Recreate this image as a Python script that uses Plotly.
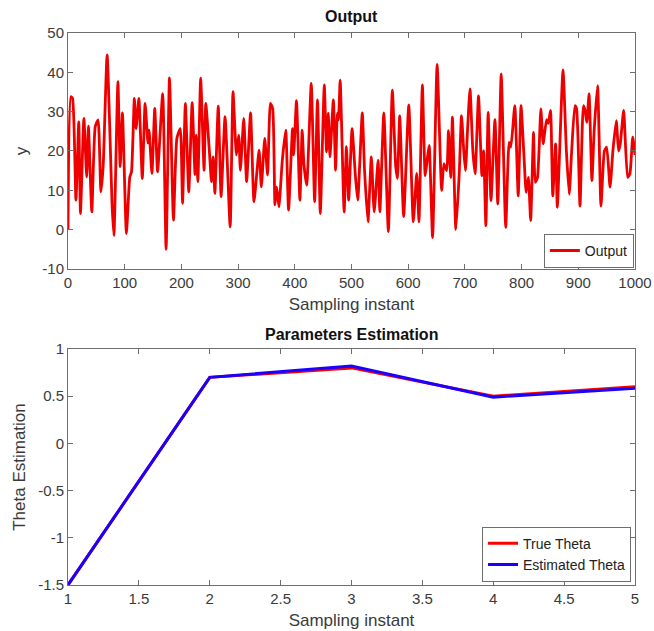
import plotly.graph_objects as go

# ---- Top chart: Output (turning points of the signal) ----
out_x = [0, 5, 8, 14, 19, 22, 28, 33, 36, 42, 48, 53, 58, 62, 69, 78, 81, 88, 92, 96,
         103, 109, 112, 117, 120, 125, 131, 136, 141, 143, 148, 153, 158, 167, 173, 179,
         186, 192, 198, 202, 207, 213, 219, 224, 226, 229, 234, 240, 243, 250, 253, 256,
         259, 265, 270, 277, 286, 291, 297, 301, 304, 310, 315, 322, 328, 337, 341, 347,
         352, 357, 361, 365, 368, 372, 378, 384, 389, 396, 398, 403, 409, 413, 416, 421,
         429, 435, 440, 445, 452, 456, 459, 462, 468, 472, 475, 477, 480, 487, 491, 495,
         501, 507, 511, 519, 523, 529, 535, 540, 547, 550, 557, 565, 572, 578, 581, 585,
         592, 601, 609, 615, 619, 625, 630, 634, 637, 643, 651, 659, 663, 668, 671, 675,
         678, 684, 690, 694, 698, 701, 705, 709, 714, 718, 724, 730, 733, 737, 741, 746,
         753, 758, 764, 772, 778, 781, 788, 794, 799, 804, 808, 812, 816, 821, 824, 828,
         834, 838, 844, 847, 851, 855, 860, 863, 873, 879, 884, 888, 894, 897, 903, 909,
         912, 915, 919, 924, 928, 934, 940, 946, 950, 956, 961, 967, 971, 974, 980, 987,
         991, 996, 1000]
out_y = [0, 33.8, 33.4, 7.5, 27.4, 4.1, 28.3, 13.4, 26.3, 4.5, 26.2, 27.9, 9.6, 16, 44.4, 5.4, -1.5, 37.6, 16, 29.7,
         -1, 13.4, 14.7, 33.4, 25.7, 33.4, 13, 32.1, 22, 25.3, 14.3, 30.8, 14.7, 34.6, -5, 38.6,
         2.4, 23.2, 25.7, 6.7, 32.1, 9.6, 32.3, 14, 24, 12.2, 38.5, 15.1, 32.1, 18.5, 12.2, 18.5,
         9.2, 31.4, 8.4, 28.7, 0.7, 35.1, 19, 24, 15.1, 28.3, 12.2, 29.7, 7.1, 20.2, 10.9, 23.2,
         13.9, 32.1, 30.8, 6.3, 10.9, 5.8, 17.7, 25.3, 5, 25.7, 19, 32.8, 7.5, 25.3, 16.8, 11.3,
         37.2, 7.1, 33, 4.1, 36.8, 19.8, 29.6, 18.5, 33, 15.1, 29.6, 27.9, 38, 4.5, 21.1, 7.5,
         25.7, 13.4, 7.5, 29.7, 15.1, 2, 18.5, 4.5, 17.7, 4.5, 29.7, -0.5, 35.5, 16, 13, 28.9,
         3.3, 31.7, 2, 14.3, 2, 36.8, 13.7, 18.4, 21.4, -2, 42, 10, 16.7, 15, 25.2, 13.3,
         28.6, 0, 14.2, 29, 20, 15, 26.4, 35.8, 20, 14.2, 34, 13.7, 20, 1, 29.8, 7.4,
         28, 6.5, 39.6, 0.6, 22.2, 21, 31.5, 8.6, 31.5, 19.2, 9.5, 13.3, 2.3, 24.7, 12, 13.3,
         30.7, 21.8, 28, 27, 30.3, 8.6, 21.8, 5.7, 40.6, 20, 9, 19.2, 31.5, 30.7, 6, 31.5,
         30.3, 27.3, 34.5, 12.5, 25.2, 36.6, 6, 20, 21, 10.8, 20, 27.7, 20, 21.8, 30.3, 13.3,
         14.2, 23.5, 19]

# ---- Bottom chart: parameters ----
theta_x = [1, 2, 3, 4, 5]
true_theta = [-1.5, 0.7, 0.8, 0.5, 0.6]
est_theta = [-1.5, 0.7, 0.82, 0.49, 0.585]

top_yticks = [-10, 0, 10, 20, 30, 40, 50]
top_yticklabels = ["-10", "0", "10", "20", "30", "40", "50"]
top_xticks = [0, 100, 200, 300, 400, 500, 600, 700, 800, 900, 1000]
bot_yticks = [-1.5, -1, -0.5, 0, 0.5, 1]
bot_yticklabels = ["-1.5", "-1", "-0.5", "0", "0.5", "1"]
bot_xticks = [1, 1.5, 2, 2.5, 3, 3.5, 4, 4.5, 5]
bot_xticklabels = ["1", "1.5", "2", "2.5", "3", "3.5", "4", "4.5", "5"]

FONT = "Liberation Sans, Arial, sans-serif"
AX = "#6e6e6e"
TXT = "#3a3a3a"

fig = go.Figure()
fig.add_trace(go.Scatter(x=out_x, y=out_y, mode="lines", name="Output", showlegend=True,
                         line=dict(color="#ee0000", width=2.8, shape="spline", smoothing=0.5),
                         xaxis="x", yaxis="y", legend="legend"))
fig.add_trace(go.Scatter(x=theta_x, y=true_theta, mode="lines", name="True Theta", showlegend=True,
                         line=dict(color="#ff0000", width=3),
                         xaxis="x2", yaxis="y2", legend="legend2"))
fig.add_trace(go.Scatter(x=theta_x, y=est_theta, mode="lines", name="Estimated Theta", showlegend=True,
                         line=dict(color="#1a00ff", width=3),
                         xaxis="x2", yaxis="y2", legend="legend2"))

axcommon = dict(showline=True, linecolor=AX, linewidth=1, mirror="ticks", automargin=False,
                ticks="inside", ticklen=5, tickcolor=AX, showgrid=False, zeroline=False,
                tickfont=dict(size=15, color=TXT, family=FONT))
xtitle = dict(text="Sampling instant", font=dict(size=17, color=TXT), standoff=8)

fig.update_layout(
    width=654, height=631,
    margin=dict(l=68, r=19, t=33, b=46),
    paper_bgcolor="white", plot_bgcolor="white",
    showlegend=True,
    font=dict(family=FONT, color=TXT),
    xaxis=dict(domain=[0, 1], anchor="y", range=[0, 1000], tickvals=top_xticks,
               title=xtitle, **axcommon),
    yaxis=dict(domain=[0.5725, 1], anchor="x", range=[-10, 50], tickvals=top_yticks,
               ticktext=top_yticklabels,
               title=dict(text="y", font=dict(size=17, color=TXT), standoff=10), **axcommon),
    xaxis2=dict(domain=[0, 1], anchor="y2", range=[1, 5], tickvals=bot_xticks,
                ticktext=bot_xticklabels, title=xtitle, **axcommon),
    yaxis2=dict(domain=[0, 0.4275], anchor="x2", range=[-1.5, 1], tickvals=bot_yticks,
                ticktext=bot_yticklabels,
                title=dict(text="Theta Estimation", font=dict(size=17, color=TXT), standoff=8),
                **axcommon),
    legend=dict(x=0.998, y=0.5745, xanchor="right", yanchor="bottom", visible=True,
                bgcolor="white", bordercolor=AX, borderwidth=1,
                font=dict(size=14, color="#222222"), tracegroupgap=0),
    legend2=dict(x=0.993, y=0.006, xanchor="right", yanchor="bottom", visible=True,
                 bgcolor="white", bordercolor=AX, borderwidth=1,
                 font=dict(size=14, color="#222222"), tracegroupgap=0),
    annotations=[
        dict(text="<b>Output</b>", x=0.5, y=1, xref="paper", yref="paper",
             xanchor="center", yanchor="bottom", yshift=6, showarrow=False,
             font=dict(size=16, color="#111111")),
        dict(text="<b>Parameters Estimation</b>", x=0.5, y=0.4275, xref="paper", yref="paper",
             xanchor="center", yanchor="bottom", yshift=4, showarrow=False,
             font=dict(size=16, color="#111111")),
    ],
)

fig.write_html("out.html", config={"displayModeBar": False},
               post_script="document.body.style.margin='0';")
